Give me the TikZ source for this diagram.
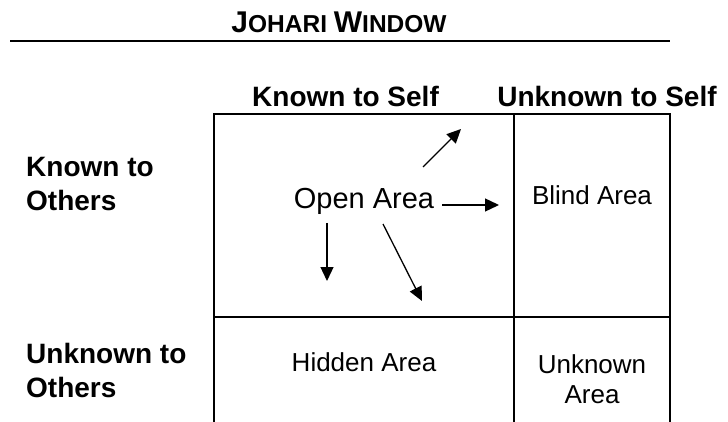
\documentclass[tikz,border=0pt]{standalone}
\usepackage{fontspec}
\setmainfont{Liberation Sans}
\usetikzlibrary{arrows.meta}
\tikzset{
  hdr/.style={font=\bfseries\fontsize{28}{34}\selectfont, inner sep=0pt},
  cell/.style={font=\fontsize{26}{30}\selectfont, inner sep=0pt, align=center},
  openlbl/.style={font=\fontsize{29}{34}\selectfont, inner sep=0pt},
  gridline/.style={line width=1.6pt, line cap=rect},
  flow/.style={line width=1.3pt, -{Triangle[length=14pt,width=13pt]}},
}
\begin{document}
\begin{tikzpicture}[x=1pt,y=-1pt]
\useasboundingbox (0,0) rectangle (728,422);
% title
\node[inner sep=0pt, anchor=base, font=\bfseries] (title) at (339,33)
  {\fontsize{30}{36}\selectfont J\fontsize{24.5}{30}\selectfont OHARI \fontsize{30}{36}\selectfont W\fontsize{24.5}{30}\selectfont INDOW};
\coordinate (tl) at (10,41);
\coordinate (tr) at (670,41);
\draw[line width=1.7pt] (tl) -- (tr);
% column headers
\node[hdr, anchor=base] (kself) at (345.5,107) {Known to Self};
\node[hdr, anchor=base] (uself) at (607,107) {Unknown to Self};
% row headers
\node[hdr, anchor=north west, align=left] (kothers) at (26,157) {Known to\\Others};
\node[hdr, anchor=north west, align=left] (uothers) at (26,343) {Unknown to\\Others};
% grid
\coordinate (g1) at (214,422);
\coordinate (g2) at (214,114);
\coordinate (g3) at (670,114);
\coordinate (g4) at (670,422);
\coordinate (m1) at (514,114);
\coordinate (m2) at (514,422);
\coordinate (h1) at (214,317);
\coordinate (h2) at (670,317);
\draw[gridline] (g1) -- (g2) -- (g3) -- (g4);
\draw[gridline] (m1) -- (m2);
\draw[gridline] (h1) -- (h2);
% cells
\node[openlbl, anchor=base] (open) at (364,209) {Open Area};
\node[cell, anchor=base] (blind) at (592,205) {Blind Area};
\node[cell, anchor=base] (hidden) at (364,371) {Hidden Area};
\node[cell, anchor=north] (unknown) at (592,354) {Unknown\\Area};
% arrows
\coordinate (a1s) at (442,205);
\coordinate (a1e) at (499,205);
\coordinate (a2s) at (423,167);
\coordinate (a2e) at (461,129);
\coordinate (a3s) at (327,223);
\coordinate (a3e) at (327,281);
\coordinate (a4s) at (383,224);
\coordinate (a4e) at (422,301);
\draw[flow] (a1s) -- (a1e);
\draw[flow] (a2s) -- (a2e);
\draw[flow] (a3s) -- (a3e);
\draw[flow] (a4s) -- (a4e);
\end{tikzpicture}
\end{document}
